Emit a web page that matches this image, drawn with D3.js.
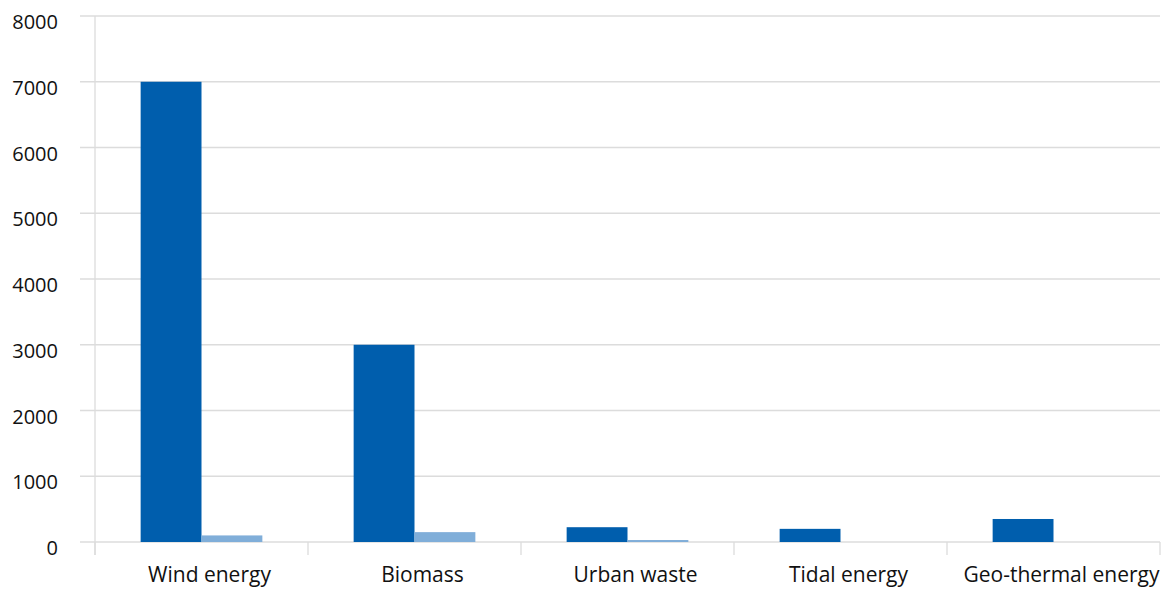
<!DOCTYPE html>
<html><head><meta charset="utf-8">
<script src="https://cdn.jsdelivr.net/npm/d3@7"></script>
<style>body{margin:0;background:#fff;} text{font-family:"Open Sans","Noto Sans",sans-serif;fill:#111;}</style>
</head><body><svg id="c" width="1167" height="589"></svg>
<script>
const categories = ["Wind energy","Biomass","Urban waste","Tidal energy","Geo-thermal energy"];
const series1 = [7000, 3000, 225, 200, 350];
const series2 = [100, 150, 30, 0, 0];
const yTicks = [0,1000,2000,3000,4000,5000,6000,7000,8000];
const colors = ["#005EAD","#80AED9"];

(function(){
const svg = d3.select("#c");
const mL = 95, mR = 1160, mT = 16, mB = 542;
const x = d3.scaleBand().domain(categories).range([mL,mR]).paddingInner(0).paddingOuter(0);
const y = d3.scaleLinear().domain([0,8000]).range([mB,mT]);
const x1 = d3.scaleBand().domain([0,1]).range([0,x.bandwidth()]).paddingOuter(0.75).paddingInner(0);

svg.append("g").selectAll("line").data(yTicks).join("line")
  .attr("x1",80).attr("x2",mR).attr("y1",d=>y(d)).attr("y2",d=>y(d))
  .attr("stroke","#dcdcdc").attr("stroke-width",1.3);
svg.append("line").attr("x1",mL).attr("x2",mL).attr("y1",mT).attr("y2",555)
  .attr("stroke","#dcdcdc").attr("stroke-width",1.3);
const bounds = categories.map(c=>x(c)+x.bandwidth()).concat([mL]);
svg.append("g").selectAll("line").data(bounds).join("line")
  .attr("x1",d=>d).attr("x2",d=>d).attr("y1",mB).attr("y2",555)
  .attr("stroke","#dcdcdc").attr("stroke-width",1.3);

svg.append("g").selectAll("text").data(yTicks).join("text")
  .attr("x",58).attr("y",d=>y(d)+13).attr("text-anchor","end")
  .style("font-size","20px").text(d=>d);

const g = svg.append("g").selectAll("g").data(categories).join("g")
  .attr("transform",d=>`translate(${x(d)},0)`);
g.selectAll("rect").data((d,i)=>[series1[i],series2[i]]).join("rect")
  .attr("x",(d,j)=>x1(j)).attr("width",x1.bandwidth())
  .attr("y",d=>y(d)).attr("height",d=>mB-y(d))
  .attr("fill",(d,j)=>colors[j]);

svg.append("g").selectAll("text").data(categories).join("text")
  .attr("x",d=>x(d)+x.bandwidth()/2+8).attr("y",582).attr("text-anchor","middle")
  .style("font-size","21px").text(d=>d);
})();
</script></body></html>
